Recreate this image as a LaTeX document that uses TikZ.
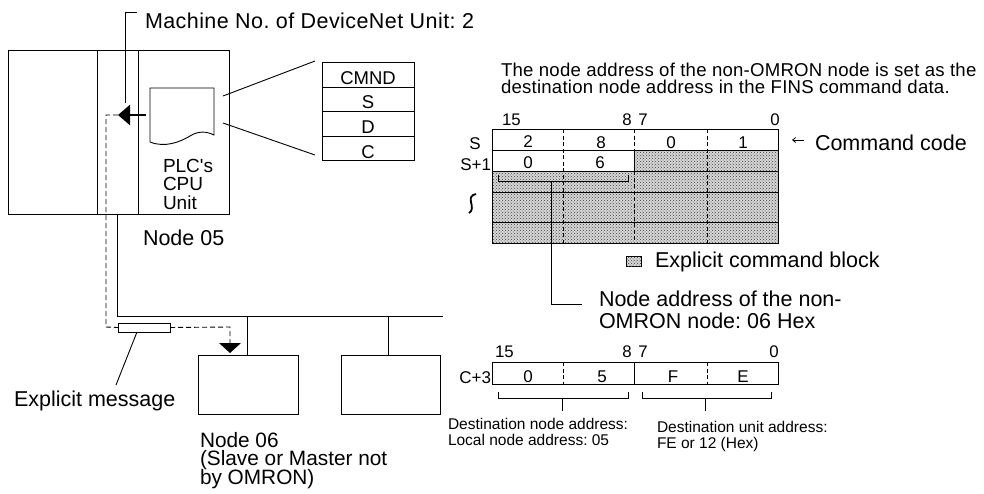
\documentclass[tikz,border=0pt]{standalone}
\usepackage{fontspec}
\setmainfont{Liberation Sans}
\usetikzlibrary{patterns,arrows.meta}
\newcommand\fsz[2]{\fontsize{#1}{#2}\selectfont\lineskiplimit=-100pt\relax}
\begin{document}
\frenchspacing
\begin{tikzpicture}[x=1pt,y=-1pt, line width=0.9pt,
  every node/.style={inner sep=0pt, outer sep=0pt},
  big/.style={font=\fsz{21.5}{18}, anchor=base west, align=left},
  plc/.style={font=\fsz{19}{18.5}, anchor=base west, align=left},
  hdr/.style={font=\fsz{18.6}{17.5}\addfontfeature{LetterSpace=1.2}, anchor=base west, align=left},
  cell/.style={font=\fsz{17}{19}, anchor=base},
  cmd/.style={font=\fsz{18.5}{20}, anchor=base},
  bit/.style={font=\fsz{16.8}{18}, anchor=base},
  tiny/.style={font=\fsz{15.5}{15.5}, anchor=base west, align=left},
  dsh/.style={dash pattern=on 4pt off 2.5pt},
  msgdash/.style={dash pattern=on 5pt off 3pt},
  shadefill/.style={fill=black!16},
  shade/.style={pattern=crosshatch dots, pattern color=black!75},
  tip/.style={-{Triangle[length=12pt,width=20pt]}},
]
\useasboundingbox (0,0) rectangle (984,493);

% ---------------- PLC unit ----------------
\draw (8,50) rectangle (229,214);
\draw (97,50) -- (97,214);
\draw (138,50) -- (138,214);
% document icon
\draw (150,142) -- (150,88) -- (214,88) -- (214,135)
  .. controls (206,131) and (198,131) .. (190,136)
  .. controls (180,142) and (165,148) .. (150,142);
\coordinate (docA) at (223,96);
\coordinate (docB) at (223,123);
% CMND table
\draw (322,62) rectangle (414,160);
\draw (322,87) -- (414,87);
\draw (322,111) -- (414,111);
\draw (322,136) -- (414,136);
\coordinate (tabA) at (315,61);
\coordinate (tabB) at (315,155);
\draw (docA) -- (tabA);
\draw (docB) -- (tabB);
\node[cmd] (cmnd) at (368,84) {CMND};
\node[cmd] (cs) at (368,108) {S};
\node[cmd] (cd) at (368,133) {D};
\node[cmd] (cc) at (368,158) {C};

\node[plc] (plc) at (163,209) {PLC\textquotesingle s\\CPU\\Unit};
\node[big] (n05) at (143,245) {Node 05};

% machine number leader
\node[big, font=\fsz{21.5}{18}\addfontfeature{LetterSpace=2}] (mach) at (145,28) {Machine No. of DeviceNet Unit: 2};
\coordinate (machA) at (137,12);
\coordinate (machB) at (125,12);
\coordinate (machC) at (125,103);
\draw (machA) -- (machB) -- (machC);

% big arrow
\coordinate (arrS) at (146,115);
\coordinate (arrT) at (118,115);
\draw[line width=2.6pt, tip] (arrS) -- (arrT);

% ---------------- network ----------------
\coordinate (busA) at (117,214);
\coordinate (busB) at (117,316);
\coordinate (busC) at (443,316);
\draw (busA) -- (busB) -- (busC);
\node[draw, minimum width=100pt, minimum height=59pt, anchor=north west] (n06box) at (198,355) {};
\node[draw, minimum width=99pt, minimum height=59pt, anchor=north west] (othbox) at (341,355) {};
\coordinate (tapA) at (247,316);
\coordinate (tapB) at (388,316);
\draw (tapA) -- (tapA |- n06box.north);
\draw (tapB) -- (tapB |- othbox.north);

% explicit message path
\node[draw, fill=white, minimum width=52pt, minimum height=9pt, anchor=north west] (msg) at (118,323) {};
\coordinate (d1) at (106,115);
\coordinate (d2) at (106,327);
\coordinate (d3) at (230,327);
\coordinate (d4) at (230,343);
\draw[msgdash] (arrT) -- (d1) -- (d2) -- (msg.west);
\draw[msgdash] (msg.east) -- (d3) -- (d4);
\fill (219,343) -- (241,343) -- (230,353) -- cycle;
\coordinate (msgP) at (137,332);
\coordinate (msgL) at (116,385);
\draw (msgP) -- (msgL);
\node[big] (msgtxt) at (14,406) {Explicit message};

\node[big, font=\fsz{20.8}{18.5}] (n06) at (200,484) {Node 06\\(Slave or Master not\\by OMRON)};

% ---------------- header ----------------
\node[hdr] (hdr) at (501,93.5) {The node address of the non-OMRON node is set as the\\destination node address in the FINS command data.};

% ---------------- S table ----------------
\fill[white] (492,129) rectangle (778,243);
\path[shadefill] (634,150) rectangle (778,171);
\path[shadefill] (492,171) rectangle (778,243);
\path[shade] (634,150) rectangle (778,171);
\path[shade] (492,171) rectangle (778,243);
\draw (492,129) rectangle (778,243);
\draw (492,150) -- (778,150);
\draw (492,171) -- (778,171);
\draw (492,192) -- (778,192);
\draw (492,222) -- (778,222);
\draw[dsh] (563,129) -- (563,243);
\draw[dsh] (634,129) -- (634,150);
\draw (634,150) -- (634,171);
\draw[dsh] (634,171) -- (634,243);
\draw[dsh] (707,129) -- (707,243);

\node[bit, anchor=base west] (b15) at (502,125) {15};
\node[bit] (b8) at (627,125) {8};
\node[bit] (b7) at (643,125) {7};
\node[bit] (b0) at (775,125) {0};
\node[cell] (sl) at (475,149) {S};
\node[cell, anchor=base east] (s1l) at (491,170) {S+1};
\node[cell] (v2) at (528,147) {2};
\node[cell] (v8) at (601,148) {8};
\node[cell] (v0) at (671,148) {0};
\node[cell] (v1) at (743,148) {1};
\node[cell] (w0) at (528,168) {0};
\node[cell] (w6) at (600,168) {6};

% tilde
\draw[line width=1.8pt] (476,194) .. controls (471,195) and (470,198) .. (471,202)
  .. controls (472,206) and (473,211) .. (469,213);

% bracket and leader to node address
\draw (498,175) -- (498,181) -- (628,181) -- (628,175);
\coordinate (brS) at (551,181);
\coordinate (brK) at (551,304);
\coordinate (brE) at (582,304);
\draw (brS) -- (brK) -- (brE);
\node[big, font=\fsz{21.5}{22}] (na) at (599,328) {Node address of the non-\\OMRON node: 06 Hex};

% command code
\coordinate (ccS) at (804,140);
\coordinate (ccT) at (792,140);
\draw[line width=0.8pt, -{Straight Barb[length=3pt,width=5pt]}] (ccS) -- (ccT);
\node[big] (cctxt) at (815,150) {Command code};

% legend
\node[draw, shadefill, minimum width=15pt, minimum height=10pt, anchor=north west, line width=0.8pt] (leg) at (626,256) {};
\path[shade] (leg.north west) rectangle (leg.south east);
\node[big] (legt) at (655,267) {Explicit command block};

% ---------------- C+3 table ----------------
\draw (492,362) rectangle (778,384);
\draw[dsh] (563,362) -- (563,384);
\draw (634,362) -- (634,384);
\draw[dsh] (707,362) -- (707,384);
\node[bit, anchor=base west] (c15) at (495,357) {15};
\node[bit] (c8) at (627,357) {8};
\node[bit] (c7) at (643,357) {7};
\node[bit] (c0) at (774,357) {0};
\node[cell, anchor=base east] (c3l) at (491,383) {C+3};
\node[cell] (x0) at (528,382) {0};
\node[cell] (x5) at (602,382) {5};
\node[cell] (xF) at (673,382) {F};
\node[cell] (xE) at (743,382) {E};

\draw (498,392) -- (498,398) -- (628,398) -- (628,392);
\draw (562,398) -- (562,411);
\draw (642,392) -- (642,398) -- (771,398) -- (771,392);
\draw (705,398) -- (705,411);

\node[tiny] (dn) at (448,445) {Destination node address:\\Local node address: 05};
\node[tiny, font=\fsz{15.5}{16}] (du) at (657,448) {Destination unit address:\\FE or 12 (Hex)};
\end{tikzpicture}
\end{document}
